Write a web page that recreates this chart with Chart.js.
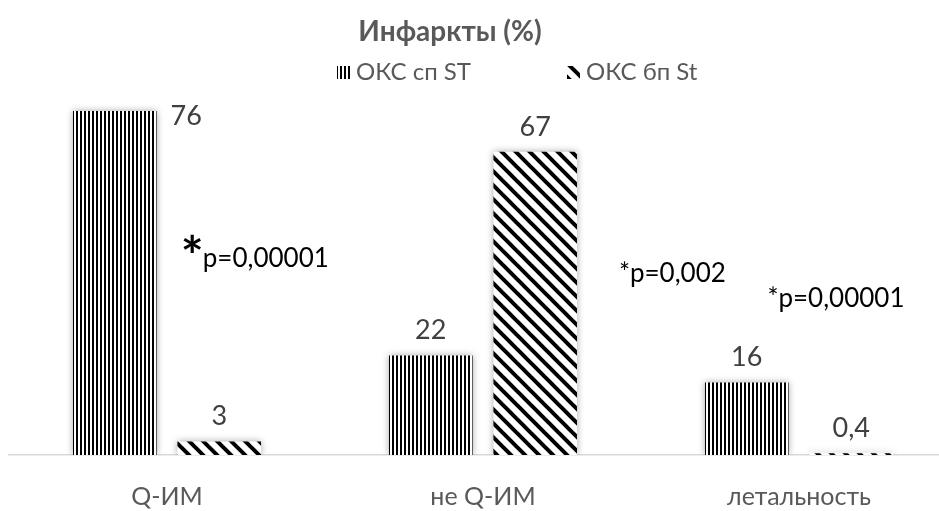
<!DOCTYPE html>
<html lang="ru">
<head>
  <meta charset="UTF-8" />
  <title>Инфаркты (%)</title>
  <script src="https://cdn.jsdelivr.net/npm/chart.js"></script>
  <style>
    html, body { margin: 0; padding: 0; background: #fff; overflow: hidden; }
    #wrap { width: 960px; height: 511px; }
  </style>
</head>
<body>
  <div id="wrap"><canvas id="chart" width="960" height="511"></canvas></div>

  <script>
    const categories = ['Q-ИМ', 'не Q-ИМ', 'летальность'];
    const seriesNames = ['ОКС сп ST', 'ОКС бп St'];
    const stElevation = [76, 22, 16];
    const nonStElevation = [3, 67, 0.4];
    const pValues = ['p=0,00001', 'p=0,002', 'p=0,00001'];
    const chartTitle = 'Инфаркты (%)';

    const FONT = 'Lato, "Noto Sans", sans-serif';

    // stripe patterns like the excel fills
    function verticalStripes() {
      const c = document.createElement('canvas');
      c.width = 4; c.height = 4;
      const g = c.getContext('2d');
      g.fillStyle = '#fff'; g.fillRect(0, 0, 4, 4);
      g.fillStyle = '#000'; g.fillRect(0, 0, 2, 4);
      return g.createPattern(c, 'repeat');
    }
    function diagonalStripes() {
      const s = 14;
      const c = document.createElement('canvas');
      c.width = s; c.height = s;
      const g = c.getContext('2d');
      g.fillStyle = '#fff'; g.fillRect(0, 0, s, s);
      g.strokeStyle = '#000'; g.lineWidth = 4;
      for (let k = -1; k <= 1; k++) {
        g.beginPath();
        g.moveTo(k * s - 2, -2);
        g.lineTo(k * s + s + 2, s + 2);
        g.stroke();
      }
      return g.createPattern(c, 'repeat');
    }
    const fills = [verticalStripes(), diagonalStripes()];

    const fmt = v => String(v).replace('.', ',');

    const decorations = {
      id: 'decorations',
      beforeDatasetDraw(chart) {
        const ctx = chart.ctx;
        ctx.save();
        ctx.shadowColor = 'rgba(0,0,0,0.35)';
        ctx.shadowBlur = 7;
      },
      afterDatasetDraw(chart) {
        chart.ctx.restore();
      },
      afterDatasetsDraw(chart) {
        const ctx = chart.ctx;
        const area = chart.chartArea;
        ctx.save();
        ctx.font = '27px ' + FONT;
        ctx.fillStyle = '#404040';
        ctx.textBaseline = 'middle';
        chart.data.datasets.forEach((ds, i) => {
          chart.getDatasetMeta(i).data.forEach((bar, j) => {
            const txt = fmt(ds.data[j]);
            if (bar.y - 26 < area.top + 10) {
              // no room above: put it right of the bar
              ctx.textAlign = 'left';
              ctx.fillText(txt, bar.x + bar.width / 2 + 14, bar.y + 5);
            } else {
              ctx.textAlign = 'center';
              ctx.fillText(txt, bar.x, bar.y - 25);
            }
          });
        });

        // significance notes (first one has a big star)
        const sx = chart.scales.x, sy = chart.scales.y;
        const anchors = [[0.05, 41.5, true], [1.43, 38.2, false], [1.9, 32.7, false]];
        ctx.fillStyle = '#000';
        ctx.textAlign = 'left';
        ctx.textBaseline = 'alphabetic';
        pValues.forEach((p, i) => {
          const [xv, yv, big] = anchors[i];
          let x = sx.getPixelForValue(xv);
          const y = sy.getPixelForValue(yv);
          if (big) {
            ctx.font = 'bold 54px ' + FONT;
            ctx.fillText('*', x - 2, y + 8);
            x += 20;
          } else {
            ctx.font = '26px ' + FONT;
            ctx.fillText('*', x, y);
            x += ctx.measureText('*').width;
          }
          ctx.font = '26px ' + FONT;
          ctx.fillText(p, x, y);
        });
        ctx.restore();
      },
      afterDraw(chart) {
        const ctx = chart.ctx;
        ctx.save();
        ctx.textBaseline = 'middle';
        ctx.textAlign = 'center';
        ctx.fillStyle = '#595959';
        ctx.font = 'bold 28px ' + FONT;
        ctx.fillText(chartTitle, 450, 32);

        // legend
        ctx.font = '24px ' + FONT;
        ctx.textAlign = 'left';
        const starts = [337, 567];
        seriesNames.forEach((name, i) => {
          const x = starts[i];
          ctx.fillStyle = fills[i];
          ctx.fillRect(x, 66, 13, 13);
          ctx.fillStyle = '#595959';
          ctx.fillText(name, x + 19, 72);
        });
        ctx.restore();
      }
    };

    new Chart(document.getElementById('chart'), {
      type: 'bar',
      data: {
        labels: categories,
        datasets: [
          { label: seriesNames[0], data: stElevation, backgroundColor: fills[0], borderWidth: 0 },
          { label: seriesNames[1], data: nonStElevation, backgroundColor: fills[1], borderWidth: 0 }
        ]
      },
      options: {
        responsive: false,
        animation: false,
        layout: { padding: { left: 9, right: 3, top: 93, bottom: 0 } },
        categoryPercentage: 0.661,
        barPercentage: 0.8,
        plugins: {
          legend: { display: false },
          title: { display: false },
          tooltip: { enabled: false }
        },
        scales: {
          x: {
            grid: { display: false },
            border: { display: true, color: '#d9d9d9', width: 1.5 },
            ticks: { color: '#595959', font: { family: FONT, size: 25 }, padding: 19 },
            afterFit: scale => { scale.height = 56; }
          },
          y: {
            display: false,
            min: 0,
            max: 80
          }
        }
      },
      plugins: [decorations]
    });
  </script>
</body>
</html>
